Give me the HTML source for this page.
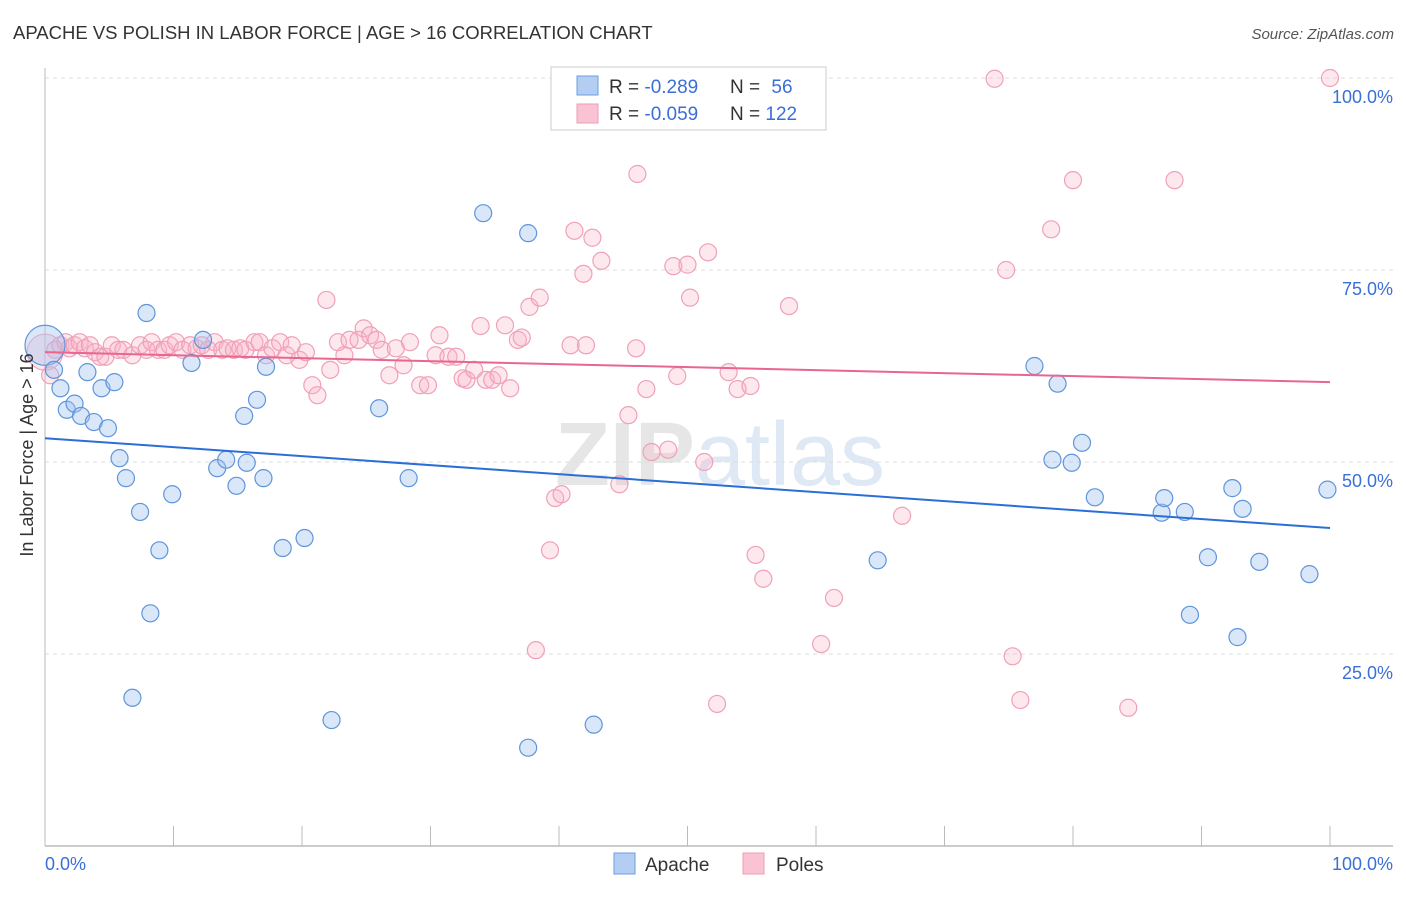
<!DOCTYPE html>
<html><head><meta charset="utf-8"><style>
body{margin:0;background:#fff;font-family:"Liberation Sans",sans-serif}
svg text{font-family:"Liberation Sans",sans-serif}
</style></head><body>
<svg id="chart" width="1406" height="892" xmlns="http://www.w3.org/2000/svg">
<text x="13" y="39" font-size="18.5" fill="#333">APACHE VS POLISH IN LABOR FORCE | AGE &gt; 16 CORRELATION CHART</text>
<text x="1394" y="39" font-size="15" fill="#555" font-style="italic" text-anchor="end">Source: ZipAtlas.com</text>
<text x="720" y="485" font-size="90" fill="#e6e6e6" text-anchor="middle" font-weight="bold">ZIP<tspan fill="#dfe8f5" font-weight="normal">atlas</tspan></text>
<g id="grid"></g>
<g id="axes"></g>
<g id="marks"></g>
<text transform="translate(33,455) rotate(-90)" font-size="18" fill="#333" text-anchor="middle">In Labor Force | Age &gt; 16</text>
<g>
<rect x="551" y="67" width="275" height="63" fill="#fff" stroke="#ccc"/>
<rect x="577" y="76" width="21" height="19" fill="#b4cdf3" stroke="#6a9fe0"/>
<rect x="577" y="104" width="21" height="19" fill="#f9c3d3" stroke="#ee9db6"/>
<text x="609" y="93" font-size="19" fill="#333">R = <tspan fill="#3a6fd8">-0.289</tspan></text>
<text x="730" y="93" font-size="19" fill="#333">N = <tspan dx="6" fill="#3a6fd8">56</tspan></text>
<text x="609" y="120" font-size="19" fill="#333">R = <tspan fill="#3a6fd8">-0.059</tspan></text>
<text x="730" y="120" font-size="19" fill="#333">N = <tspan fill="#3a6fd8">122</tspan></text>
</g>
<g>
<rect x="614" y="853" width="21" height="21" fill="#b4cdf3" stroke="#6a9fe0"/>
<text x="645" y="871" font-size="19" fill="#333">Apache</text>
<rect x="743" y="853" width="21" height="21" fill="#f9c3d3" stroke="#ee9db6"/>
<text x="776" y="871" font-size="19" fill="#333">Poles</text>
</g>
</svg>
<script>
const apacheX=[0,0.7,1.2,1.7,2.3,2.8,3.3,3.8,4.4,4.9,5.4,5.8,6.3,7.4,7.9,8.9,8.2,9.9,6.8,11.4,12.3,13.4,14.1,14.9,15.5,15.7,16.5,17.0,17.2,18.5,20.2,22.3,26.0,28.3,34.1,37.6,37.6,42.7,64.8,77.0,78.4,78.8,79.9,80.7,81.7,86.9,87.1,88.7,89.1,90.5,92.4,92.8,93.2,94.5,98.4,99.8];
const apacheY=[65.2,62.0,59.6,56.8,57.6,56.0,61.7,55.2,59.6,54.4,60.4,50.5,47.9,43.5,69.4,38.5,30.3,45.8,19.3,62.9,65.9,49.2,50.3,46.9,56.0,49.9,58.1,47.9,62.4,38.8,40.1,16.4,57.0,47.9,82.4,79.8,12.8,15.8,37.2,62.5,50.3,60.2,49.9,52.5,45.4,43.4,45.3,43.5,30.1,37.6,46.6,27.2,43.9,37.0,35.4,46.4];
const polesX=[0.4,0.8,1.2,1.6,1.9,2.3,2.7,3.1,3.5,3.9,4.3,4.7,5.2,5.7,6.1,6.8,7.4,7.9,8.3,8.8,9.3,9.7,10.2,10.7,11.3,11.8,12.2,12.7,13.2,13.8,14.2,14.7,15.2,15.6,16.3,16.7,17.2,17.7,18.3,18.8,19.2,19.8,20.3,20.8,21.2,21.9,22.2,22.8,23.3,23.7,24.4,24.8,25.3,25.8,26.2,26.8,27.3,27.9,28.4,29.2,29.8,30.4,30.7,31.4,32.0,32.5,32.8,33.4,33.9,34.3,34.8,35.3,35.8,36.2,36.8,37.1,37.7,38.5,39.3,39.7,40.2,38.2,40.9,41.2,41.9,42.1,42.6,43.3,44.7,45.4,46.0,46.1,46.8,47.2,48.5,48.9,49.2,50.0,50.2,51.3,51.6,52.3,53.2,53.9,54.9,55.3,55.9,57.9,60.4,61.4,66.7,73.9,74.8,75.3,75.9,78.3,80.0,84.3,87.9,100,47.9,43.7];
const polesY=[61.3,64.6,65.2,65.6,64.8,65.2,65.6,64.8,65.2,64.3,63.7,63.7,65.2,64.6,64.6,63.9,65.2,64.6,65.6,64.6,64.6,65.2,65.6,64.6,65.2,64.8,65.2,64.6,65.6,64.6,64.8,64.6,64.8,64.6,65.6,65.6,63.9,64.8,65.6,63.9,65.2,63.3,64.3,60.0,58.7,71.1,62.0,65.6,63.9,65.9,65.9,67.4,66.5,65.9,64.6,61.3,64.8,62.6,65.6,60.0,60.0,63.9,66.5,63.7,63.7,60.9,60.7,62.0,67.7,60.7,60.7,61.3,67.8,59.6,65.9,66.2,70.2,71.4,38.5,45.3,45.8,25.5,65.2,80.1,74.5,65.2,79.2,76.2,47.1,56.1,64.8,87.5,59.5,51.3,51.6,75.5,61.2,75.7,71.4,50.0,77.3,18.5,61.7,59.5,59.9,37.9,34.8,70.3,26.3,32.3,43.0,99.9,75.0,24.7,19.0,80.3,86.7,18.0,86.7,100,100,100];
const apacheTrend=[53.1,41.4];
const polesTrend=[64.3,60.4];
const yTicks=[25,50,75,100];
const yTickLabels=["25.0%","50.0%","75.0%","100.0%"];
const xTicks=[0,10,20,30,40,50,60,70,80,90,100];

const NS="http://www.w3.org/2000/svg";
const X0=45,X1=1330,YB=846,YT=78;
const sx=v=>X0+(X1-X0)*v/100;
const sy=v=>YB-(YB-YT)*v/100;
function mk(tag,attrs,parent){const e=document.createElementNS(NS,tag);for(const k in attrs)e.setAttribute(k,attrs[k]);parent.appendChild(e);return e;}
const grid=document.getElementById('grid'),axes=document.getElementById('axes'),marks=document.getElementById('marks');
yTicks.forEach((t,i)=>{
  const l=mk('line',{x1:X0,x2:1393,y1:sy(t),y2:sy(t),stroke:'#ddd','stroke-dasharray':'4,4'},grid);
  
  
  const tx=mk('text',{x:1393,y:sy(t)+25,'font-size':18,fill:'#3a6fd8','text-anchor':'end'},grid);
  tx.textContent=yTickLabels[i];
  
  
});
const ya=mk('line',{x1:X0,x2:X0,y1:68,y2:YB,stroke:'#bbb'},axes);


const xa=mk('line',{x1:X0,x2:1393,y1:YB,y2:YB,stroke:'#bbb','stroke-width':1.5},axes);


xTicks.forEach(t=>{
  const l=mk('line',{x1:sx(t),x2:sx(t),y1:826,y2:YB,stroke:'#bbb'},axes);
  
  
});
const xl0=mk('text',{x:45,y:870,'font-size':18,fill:'#3a6fd8'},axes);xl0.textContent='0.0%';


const xl1=mk('text',{x:1393,y:870,'font-size':18,fill:'#3a6fd8','text-anchor':'end'},axes);xl1.textContent='100.0%';



mk('circle',{cx:sx(0),cy:sy(64.3),r:18,fill:'rgba(248,180,200,0.35)',stroke:'#f0a0b8'},marks);
polesX.forEach((x,i)=>{
  const c=mk('circle',{cx:sx(x),cy:sy(polesY[i]),r:8.5,fill:'rgba(248,180,200,0.3)',stroke:'#f0a0b8','stroke-width':1.2},marks);
  
  
});
apacheX.forEach((x,i)=>{
  const c=mk('circle',{cx:sx(x),cy:sy(apacheY[i]),r:i===0?20:8.5,fill:'rgba(160,195,240,0.4)',stroke:'#5f95dc','stroke-width':1.2},marks);
  
  
});
const tp=mk('line',{x1:sx(0),x2:sx(100),y1:sy(polesTrend[0]),y2:sy(polesTrend[1]),stroke:'#e8668f','stroke-width':2},marks);


const ta=mk('line',{x1:sx(0),x2:sx(100),y1:sy(apacheTrend[0]),y2:sy(apacheTrend[1]),stroke:'#2a6fd6','stroke-width':2},marks);


</script>
</body></html>
